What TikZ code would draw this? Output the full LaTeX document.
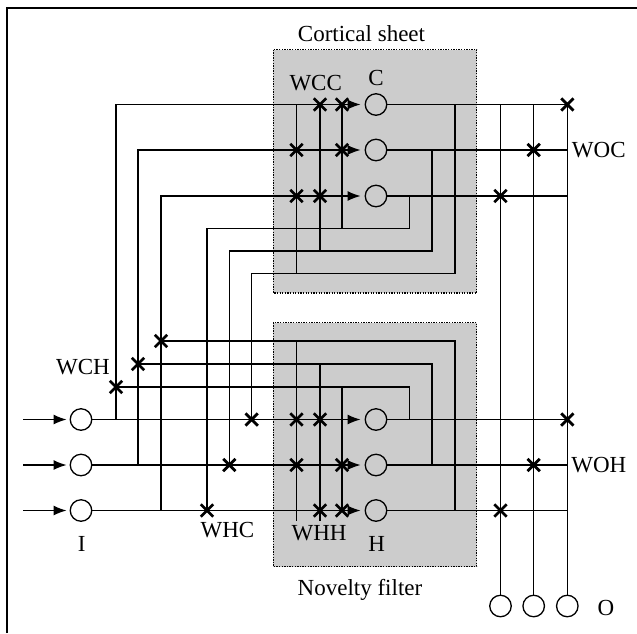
\documentclass[tikz,border=0pt]{standalone}
\usepackage{fontspec}
\setmainfont{Liberation Serif}
\usepackage{tikz}
\usetikzlibrary{arrows.meta,calc,shapes.misc}
\definecolor{sheetgray}{gray}{0.8}

\begin{document}
\begin{tikzpicture}[x=1pt,y=-1pt,
    wire/.style={line width=1.4pt},
    feed/.style={wire,-{Latex[length=13pt,width=10pt]},shorten >=4pt},
    neuron/.style={circle,draw,line width=1.3pt,minimum size=21.5pt,inner sep=0pt},
    wx/.style={cross out,draw,line width=2.8pt,minimum size=9.5pt,inner sep=0pt},
    lab/.style={anchor=base,inner sep=0pt,font=\fontsize{23}{28}\selectfont},
    sheet/.style={fill=sheetgray,draw,line width=1.4pt,dash pattern=on 1.3pt off 1.3pt}]
  \useasboundingbox (0,0) rectangle (637,633);
  % Frame
  \draw[line width=2pt] (7,633) -- (7,7.5) -- (637,7.5);
  % Boxes
  \draw[sheet] (273.3,49.6) rectangle (476.7,293);
  \draw[sheet] (273.3,322.6) rectangle (476.7,566.5);
  % Columns and rows of the wiring
  \coordinate (cA) at (116,0);   \coordinate (cB) at (138,0);   \coordinate (cC) at (161,0);
  \coordinate (cD) at (207,0);   \coordinate (cE) at (229.3,0); \coordinate (cF) at (251.7,0);
  \coordinate (cG) at (296.5,0); \coordinate (cH) at (320,0);   \coordinate (cK) at (342,0);
  \coordinate (cP) at (409.5,0); \coordinate (cQ) at (432,0);   \coordinate (cR) at (455,0);
  \coordinate (rC3) at (0,228.5); \coordinate (rC2) at (0,251);  \coordinate (rC1) at (0,273.5);
  \coordinate (rH3) at (0,341);   \coordinate (rH2) at (0,364);  \coordinate (rH1) at (0,387);
  \coordinate (rEnd) at (0,521);
  % Neurons
  \foreach \n/\y in {1/419.5,2/465,3/510.5}{
    \node[neuron] (i\n) at (81,\y) {};
    \node[neuron] (h\n) at (376,\y) {};
    \coordinate (in\n) at (23,\y);
  }
  \foreach \n/\y in {1/104.5,2/150,3/196}
    \node[neuron] (c\n) at (376,\y) {};
  \foreach \n/\x in {1/500.5,2/533.7,3/567.3}{
    \node[neuron] (o\n) at (\x,606) {};
    \coordinate (cO\n) at (\x,0);
  }
  % Inputs
  \foreach \n in {1,2,3}{
    \draw[feed,shorten >=3pt] (in\n) -- (i\n);
    \draw[feed] (i\n) -- (h\n);
  }
  \draw[feed] (i1 -| cA) |- (c1);
  \draw[feed] (i2 -| cB) |- (c2);
  \draw[feed] (i3 -| cC) |- (c3);
  % Cortical sheet feedback
  \draw[wire] (c1 -| cR) |- (rC1 -| cF) -- (i1 -| cF);
  \draw[wire] (c2 -| cQ) |- (rC2 -| cE) -- (i2 -| cE);
  \draw[wire] (c3 -| cP) |- (rC3 -| cD) -- (i3 -| cD);
  \draw[wire] (rC1 -| cG) -- (c1 -| cG);
  \draw[wire] (rC2 -| cH) -- (c1 -| cH);
  \draw[wire] (rC3 -| cK) -- (c1 -| cK);
  % Novelty filter feedback
  \draw[wire] (h1 -| cP) |- (rH1 -| cA);
  \draw[wire] (h2 -| cQ) |- (rH2 -| cB);
  \draw[wire] (h3 -| cR) |- (rH3 -| cC);
  \draw[wire] (rH1 -| cK) -- (h3 -| cK);
  \draw[wire] (rH2 -| cH) -- (rEnd -| cH);
  \draw[wire] (rH3 -| cG) -- (rEnd -| cG);
  % Outputs
  \foreach \n in {1,2,3}{
    \draw[wire] (c\n) -- (c\n -| cO3);
    \draw[wire] (h\n) -- (h\n -| cO3);
    \draw[wire] (c1 -| cO\n) -- (o\n);
  }
  % Weights
  \foreach \r/\c [count=\k] in {c1/cH,c1/cK,c2/cG,c2/cK,c3/cG,c3/cH,
      h1/cG,h1/cH,h2/cG,h2/cK,h3/cH,h3/cK,h1/cF,h2/cE,h3/cD,
      rH1/cA,rH2/cB,rH3/cC,c1/cO3,c2/cO2,c3/cO1,h1/cO3,h2/cO2,h3/cO1}
    \node[wx] (w\k) at (\r -| \c) {};
  % Labels
  \node[lab] (lcs) at (361.5,41.5) {Cortical sheet};
  \node[lab] (lnf) at (360,595) {Novelty filter};
  \node[lab] (lwcc) at (315.7,90.3) {WCC};
  \node[lab] (lc) at (376,85) {C};
  \node[lab] (lwoc) at (598.8,157) {WOC};
  \node[lab] (lwoh) at (598.8,472) {WOH};
  \node[lab] (lwch) at (83,374) {WCH};
  \node[lab] (lwhc) at (227.5,537.7) {WHC};
  \node[lab] (lwhh) at (319,540) {WHH};
  \node[lab] (li) at (81.7,551.7) {I};
  \node[lab] (lh) at (376.7,551.7) {H};
  \node[lab] (lo) at (606,615) {O};
\end{tikzpicture}
\end{document}
